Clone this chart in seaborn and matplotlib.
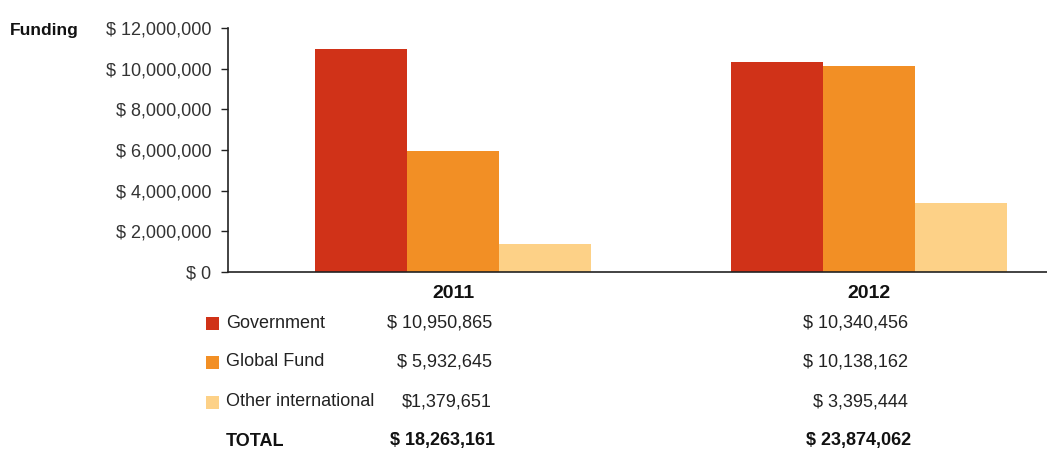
import matplotlib
matplotlib.use("Agg")
import matplotlib.pyplot as plt
import matplotlib.ticker as mticker
import pandas as pd
import seaborn as sns

# data
years = ["2011", "2012"]
sources = ["Government", "Global Fund", "Other international"]
funding_2011 = [10950865, 5932645, 1379651]
funding_2012 = [10340456, 10138162, 3395444]
colors = ["#D03218", "#F28F25", "#FDD187"]

rows = []
for yr, vals in zip(years, [funding_2011, funding_2012]):
    for src, v in zip(sources, vals):
        rows.append({"Year": yr, "Source": src, "Funding": v})
df = pd.DataFrame(rows)

sns.set_style("white")
plt.rcParams["font.family"] = ["Liberation Sans", "DejaVu Sans"]

W, H = 1047, 454
fig = plt.figure(figsize=(W / 100, H / 100), dpi=100)
ax = fig.add_axes([228 / W, 1 - 272 / H, 1 - 228 / W, 244 / H])

sns.barplot(data=df, x="Year", y="Funding", hue="Source", order=years,
            hue_order=sources, palette=colors, width=0.663, saturation=1,
            linewidth=0, ax=ax, legend=False)

ax.set_xlim(-0.541, 1.428)
ax.set_ylim(0, 12000000)
ax.set_yticks(range(0, 12000001, 2000000))
ax.yaxis.set_major_formatter(mticker.FuncFormatter(lambda v, p: f"$ {v:,.0f}"))
ax.tick_params(axis="y", left=True, length=5, width=1, color="#222222",
               pad=7, labelsize=13, labelcolor="#333333")
ax.tick_params(axis="x", bottom=False, pad=6, labelsize=14, labelcolor="#111111")
for lbl in ax.get_xticklabels():
    lbl.set_fontweight("bold")
ax.set_xlabel("")
ax.set_ylabel("")
sns.despine(ax=ax, top=True, right=True)
ax.spines["left"].set_color("#222222")
ax.spines["bottom"].set_color("#222222")
ax.spines["left"].set_linewidth(1.2)
ax.spines["bottom"].set_linewidth(1.2)

fig.text(10 / W, 1 - 30 / H, "Funding", fontsize=12.5, fontweight="bold",
         va="center", ha="left", color="#111111")

# table under the chart
row_y = [323, 362, 402]
col_x = [492, 908]
for i, src in enumerate(sources):
    y = 1 - row_y[i] / H
    fig.patches.append(plt.Rectangle((206 / W, y - 7 / H), 13 / W, 13 / H,
                                     transform=fig.transFigure,
                                     facecolor=colors[i], edgecolor="none"))
    fig.text(226 / W, y, src, fontsize=13, va="center", ha="left", color="#222222")
    for j, vals in enumerate([funding_2011, funding_2012]):
        sep = "" if (j == 0 and i == 2) else " "
        fig.text(col_x[j] / W, y, f"${sep}{vals[i]:,}", fontsize=13,
                 va="center", ha="right", color="#222222")

ty = 1 - 441 / H
fig.text(226 / W, ty, "TOTAL", fontsize=13, fontweight="bold",
         va="center", ha="left", color="#111111")
for j, vals in enumerate([funding_2011, funding_2012]):
    fig.text((col_x[j] + 3) / W, ty, f"$ {sum(vals):,}", fontsize=13,
             fontweight="bold", va="center", ha="right", color="#111111")

fig.savefig("out.png", dpi=100)
